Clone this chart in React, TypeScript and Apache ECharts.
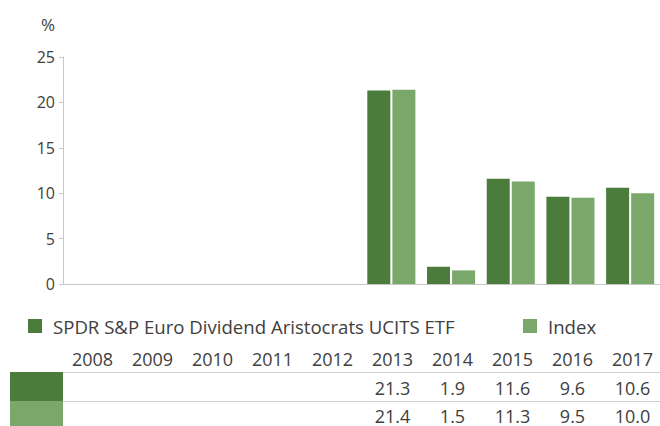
import React, { useEffect, useRef } from "react";
import * as echarts from "echarts";

const years = ["2008", "2009", "2010", "2011", "2012", "2013", "2014", "2015", "2016", "2017"];
const fundName = "SPDR S&P Euro Dividend Aristocrats UCITS ETF";
const indexName = "Index";
const fundValues: (number | null)[] = [null, null, null, null, null, 21.3, 1.9, 11.6, 9.6, 10.6];
const indexValues: (number | null)[] = [null, null, null, null, null, 21.4, 1.5, 11.3, 9.5, 10.0];
const yTicks = [0, 5, 10, 15, 20, 25];

const DARK = "#4b7c3b";
const LIGHT = "#7aa86b";
const TEXT = "#404040";
const FONT = "'Open Sans', sans-serif";

export default function App() {
  const ref = useRef<HTMLDivElement>(null);
  useEffect(() => {
    if (!ref.current) return;
    const chart = echarts.init(ref.current, null, { renderer: "svg" });
    const legendText = { fontSize: 18.6, color: TEXT, fontFamily: FONT, padding: [0, 0, 0, 6], lineHeight: 20 };
    chart.setOption({
      animation: false,
      textStyle: { fontFamily: FONT },
      grid: { left: 63, right: -6, top: 57, height: 227 },
      legend: [
        {
          data: [fundName],
          left: 23,
          top: 311,
          icon: "rect",
          itemWidth: 14,
          itemHeight: 14,
          textStyle: legendText,
          selectedMode: false,
        },
        {
          data: [indexName],
          left: 518,
          top: 311,
          icon: "rect",
          itemWidth: 14,
          itemHeight: 14,
          textStyle: legendText,
          selectedMode: false,
        },
      ],
      xAxis: {
        type: "category",
        data: years,
        axisLine: { lineStyle: { color: "#c8c8c8", width: 1 } },
        axisTick: { show: false },
        axisLabel: { show: false },
      },
      yAxis: {
        type: "value",
        min: yTicks[0],
        max: yTicks[yTicks.length - 1],
        interval: 5,
        name: "%",
        nameLocation: "end",
        nameGap: 24,
        nameTextStyle: { fontSize: 17, color: TEXT, fontFamily: FONT, align: "right", padding: [0, 8, 0, 0] },
        axisLine: { show: true, lineStyle: { color: "#c8c8c8", width: 1 } },
        axisTick: { show: true, length: 4, lineStyle: { color: "#c8c8c8" } },
        splitLine: { show: false },
        axisLabel: { fontSize: 16, color: TEXT, fontFamily: FONT, margin: 8 },
      },
      series: [
        {
          name: fundName,
          type: "bar",
          data: fundValues,
          barWidth: 23,
          barGap: "9%",
          itemStyle: { color: DARK },
        },
        {
          name: indexName,
          type: "bar",
          data: indexValues,
          barWidth: 23,
          itemStyle: { color: LIGHT },
        },
      ],
    });

    const tableLeft = 63;
    const colWidth = 60;
    const graphics: any[] = [];
    graphics.push({ type: "rect", left: 10, top: 372, shape: { width: 53, height: 29 }, style: { fill: DARK }, silent: true });
    graphics.push({ type: "rect", left: 10, top: 401, shape: { width: 53, height: 25 }, style: { fill: LIGHT }, silent: true });
    graphics.push({ type: "line", shape: { x1: 63, y1: 372.5, x2: 660, y2: 372.5 }, style: { stroke: "#d0d0d0", lineWidth: 1 }, silent: true });
    graphics.push({ type: "line", shape: { x1: 63, y1: 401.5, x2: 660, y2: 401.5 }, style: { stroke: "#d0d0d0", lineWidth: 1 }, silent: true });
    years.forEach((yr, i) => {
      const cx = tableLeft + colWidth * (i + 0.5) - 0.5;
      const mk = (txt: string, y: number) => ({
        type: "text",
        x: cx,
        y,
        silent: true,
        style: { text: txt, fill: TEXT, font: `18px ${FONT}`, lineHeight: 18, textAlign: "center", textVerticalAlign: "middle" },
      });
      graphics.push(mk(yr, 359));
      if (fundValues[i] != null) graphics.push(mk((fundValues[i] as number).toFixed(1), 388));
      if (indexValues[i] != null) graphics.push(mk((indexValues[i] as number).toFixed(1), 415.5));
    });
    chart.setOption({ graphic: graphics });

    return () => chart.dispose();
  }, []);
  return <div ref={ref} style={{ position: "absolute", left: 0, top: 0, width: 660, height: 426 }} />;
}
